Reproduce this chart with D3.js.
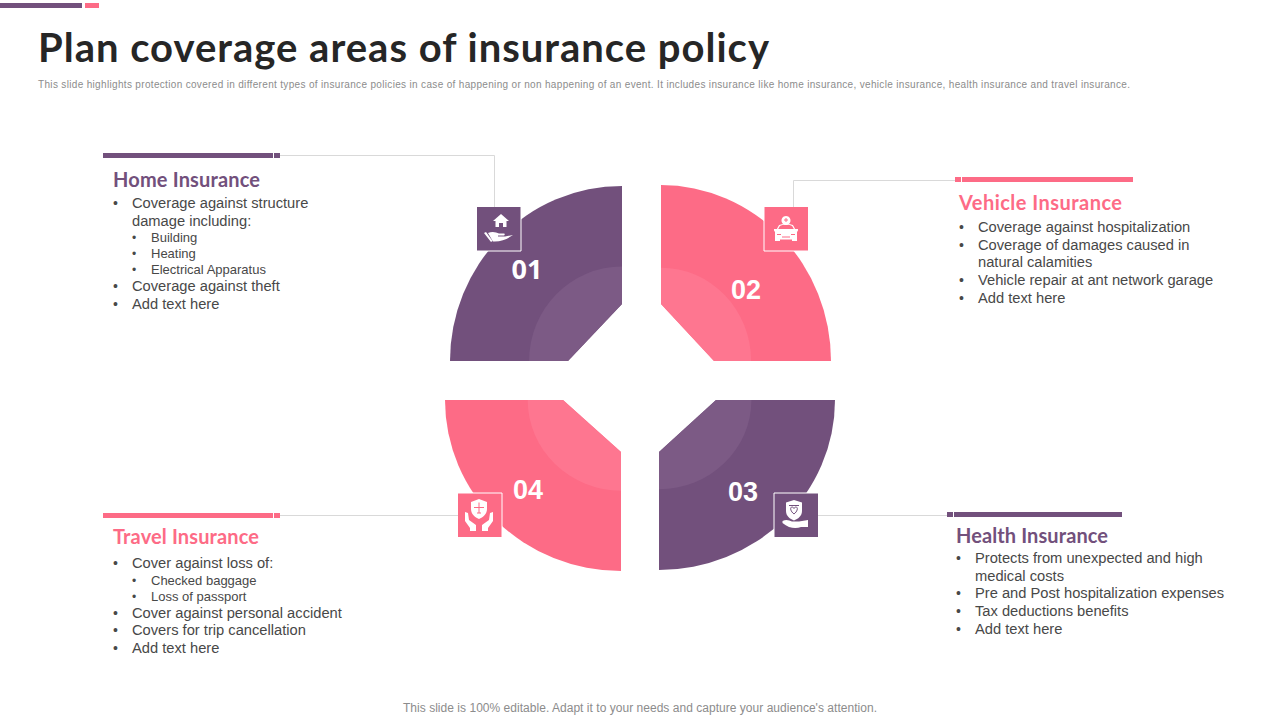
<!DOCTYPE html>
<html>
<head>
<meta charset="utf-8">
<script src="https://cdn.jsdelivr.net/npm/d3@7"></script>
<style>
  html, body { margin: 0; padding: 0; background: #fff; }
  svg { display: block; }
  text { font-family: "Liberation Sans", Arial, sans-serif; }
</style>
</head>
<body>
<div id="chart"></div>
<script>
// data
var categories = ["Home Insurance", "Vehicle Insurance", "Health Insurance", "Travel Insurance"];
var numbers = ["01", "02", "03", "04"];
var shares = [25, 25, 25, 25];
var homeLines = [
  [1, "Coverage against structure"], [0, "damage including:"], [2, "Building"], [2, "Heating"],
  [2, "Electrical Apparatus"], [1, "Coverage against theft"], [1, "Add text here"]
];
var vehicleLines = [
  [1, "Coverage against hospitalization"], [1, "Coverage of damages caused in"], [0, "natural calamities"],
  [1, "Vehicle repair at ant network garage"], [1, "Add text here"]
];
var healthLines = [
  [1, "Protects from unexpected and high"], [0, "medical costs"], [1, "Pre and Post hospitalization expenses"],
  [1, "Tax deductions benefits"], [1, "Add text here"]
];
var travelLines = [
  [1, "Cover against loss of:"], [2, "Checked baggage"], [2, "Loss of passport"],
  [1, "Cover against personal accident"], [1, "Covers for trip cancellation"], [1, "Add text here"]
];
var allLines = [homeLines, vehicleLines, healthLines, travelLines];

var purple = "#72507c", pink = "#fd6b86";
var colors = [purple, pink, purple, pink];
var lightColors = ["#7c5a85", "#fe7690", "#7c5a85", "#fe7690"];

// layout per quarter, same order as categories
var wedges = [
  {cx: 622, cy: 361, rx: 172, ry: 175, inner: 0.54, cut: [[0, -57], [-54, 0]], tx: 527, ty: 269},
  {cx: 661, cy: 361, rx: 170, ry: 176, inner: 0.53, cut: [[0, -57], [53, 0]], tx: 746, ty: 289},
  {cx: 659, cy: 400, rx: 176, ry: 170, inner: 0.525, cut: [[0, 52], [57, 0]], tx: 743, ty: 491},
  {cx: 621, cy: 400, rx: 176, ry: 171, inner: 0.53, cut: [[0, 52], [-58, 0]], tx: 528, ty: 489}
];
var boxes = [
  {x: 477, y: 207, edge: "M44,0V44H0"},
  {x: 764, y: 207, edge: "M0,0V44H44"},
  {x: 774, y: 493, edge: "M44,0H0V44"},
  {x: 458, y: 493, edge: "M0,0H44V44"}
];
var blocks = [
  {barX: 103, barY: 153, barW: 170, sqX: 274, link: "M279,155.5H494.5V207", headX: 113, headY: 187, headW: 147, bulletX: 113,
   ys: [203, 221, 237.5, 253.5, 269.5, 286, 304]},
  {barX: 962, barY: 177, barW: 171, sqX: 955, link: "M955,180.5H793.5V207", headX: 959, headY: 210, headW: 163, bulletX: 959,
   ys: [227, 245, 262, 280, 298]},
  {barX: 954, barY: 512, barW: 168, sqX: 947, link: "M947,515.5H818", headX: 956, headY: 543, headW: 152, bulletX: 956,
   ys: [558, 576, 593, 611, 629]},
  {barX: 103, barY: 513, barW: 170, sqX: 274, link: "M279,515.5H458", headX: 113, headY: 544, headW: 146, bulletX: 113,
   ys: [563, 580.5, 596.5, 613, 630, 648]}
];
// icon shapes, drawn in a 44px box
var icons = [
  "M16,14L24,7L32,14H29.5V20H26V16H22V20H18.5V14Z M7,26L14,35L15.5,34L9,25Z M11,26C15,24 19,25 22,26.5H27C28,26.5 28,28 27,28.5H21V29.5H28L36,28C30,32 24,35 16,34.5Z",
  "M22,9a4.5,4.5 0 1 0 .01,0Z M10,22H34V23.5L33,25V34H28V32.5H16V34H11V25L10,23.5Z",
  "M20,7L28,9.5V18C28,23 24,26 20,27.5C16,26 12,23 12,18V9.5Z M8.5,28C12,26 15,27 18,28.5H25L34,27V34H27C22,36 15,35.5 8.5,30Z",
  "M21,6L29,9V16C29,21 25,24.5 21,26C17,24.5 13,21 13,16V9Z M7,19L10,20L11,27L18,32V38H12V35L7,28Z M35,19L32,20L31,27L24,32V38H30V35L35,28Z"
];
var iconDetails = [null,
  "M22,11V15 M20,13H24 M13,27.5H17 M27,27.5H31 M18,30H26",
  "M20,21C16,18 16,14 18,14C19,14 20,15 20,15.5C20,15 21,14 22,14C24,14 24,18 20,21Z M15,12.5H25",
  "M21,9.5V20 M16,14.5L26,14.5 M19,20H23"
];
var iconOutlines = [null, "M13.5,22L15.5,18.5Q22,15.5 28.5,18.5L30.5,22", null, null];

var svg = d3.select("#chart").append("svg")
  .attr("width", 1280)
  .attr("height", 720);

// top accent bars
svg.append("rect").attr("x", 0).attr("y", 3).attr("width", 82).attr("height", 5).attr("fill", purple);
svg.append("rect").attr("x", 85).attr("y", 3).attr("width", 14).attr("height", 5).attr("fill", pink);

// title and notes
svg.append("text").attr("x", 38).attr("y", 62)
  .attr("textLength", 731).attr("lengthAdjust", "spacing")
  .style("font-family", "Lato").style("font-size", "40px").style("font-weight", 700)
  .attr("fill", "#262626")
  .text("Plan coverage areas of insurance policy");
svg.append("text").attr("x", 38).attr("y", 88)
  .attr("textLength", 1092).attr("lengthAdjust", "spacing")
  .style("font-size", "10px").attr("fill", "#8c8c8c")
  .text("This slide highlights protection covered in different types of insurance policies in case of happening or non happening of an event. It includes insurance like home insurance, vehicle insurance, health insurance and travel insurance.");
svg.append("text").attr("x", 403).attr("y", 712)
  .attr("textLength", 474).attr("lengthAdjust", "spacing")
  .style("font-size", "12px").attr("fill", "#8c8c8c")
  .text("This slide is 100% editable. Adapt it to your needs and capture your audience's attention.");

// wedges, starting top left and going clockwise
var pie = d3.pie().sort(null).startAngle(-Math.PI / 2).endAngle(Math.PI * 1.5);
var arcs = pie(shares);
var arc = d3.arc().innerRadius(0);

arcs.forEach(function (a, i) {
  var w = wedges[i];
  // clip away the corner next to the middle of the circle
  var sx = w.cut[1][0] > 0 ? 1 : -1, sy = w.cut[0][1] > 0 ? 1 : -1;
  var far = 200;
  var poly = [w.cut[0], [0, sy * far], [sx * far, sy * far], [sx * far, 0], w.cut[1]];
  svg.append("clipPath").attr("id", "cut" + i)
    .append("polygon").attr("points", poly.join(" "));
  var g = svg.append("g")
    .attr("transform", "translate(" + w.cx + "," + w.cy + ")")
    .attr("clip-path", "url(#cut" + i + ")");
  var scale = "scale(" + w.rx + "," + w.ry + ")";
  g.append("path").attr("d", arc.outerRadius(1)(a)).attr("transform", scale).attr("fill", colors[i]);
  g.append("path").attr("d", arc.outerRadius(w.inner)(a)).attr("transform", scale).attr("fill", lightColors[i]);
  svg.append("text").attr("x", w.tx).attr("y", w.ty + 9.5)
    .style("text-anchor", "middle").style("font-size", "27px").style("font-weight", 700)
    .style("font-family", i == 0 ? "'Open Sans'" : "'Liberation Sans'")
    .attr("fill", "#fff")
    .text(numbers[i]);
});

// connector lines and text blocks
categories.forEach(function (name, i) {
  var b = blocks[i];
  svg.append("path").attr("d", b.link).attr("fill", "none").attr("stroke", "#d9d9d9").attr("stroke-width", 1);
  svg.append("rect").attr("x", b.barX).attr("y", b.barY).attr("width", b.barW).attr("height", 5).attr("fill", colors[i]);
  svg.append("rect").attr("x", b.sqX).attr("y", b.barY).attr("width", 6).attr("height", 5).attr("fill", colors[i]);
  svg.append("text").attr("x", b.headX).attr("y", b.headY)
    .attr("textLength", b.headW).attr("lengthAdjust", "spacing")
    .style("font-family", "Lato").style("font-size", "20px").style("font-weight", 700)
    .attr("fill", colors[i])
    .text(name);

  allLines[i].forEach(function (line, j) {
    var sub = line[0] == 2;
    var y = b.ys[j] + (sub ? 4.5 : 5);
    var textX = b.bulletX + (sub ? 38 : 19);
    if (line[0] > 0) {
      svg.append("text").attr("x", b.bulletX + (sub ? 19 : 0)).attr("y", y)
        .style("font-size", sub ? "12px" : "14px").attr("fill", "#484848").text("•");
    }
    svg.append("text").attr("x", textX).attr("y", y)
      .style("font-size", sub ? "13px" : "14.7px").attr("fill", "#484848")
      .text(line[1]);
  });
});

// icon boxes
boxes.forEach(function (b, i) {
  var g = svg.append("g").attr("transform", "translate(" + b.x + "," + b.y + ")");
  g.append("rect").attr("width", 44).attr("height", 44).attr("fill", colors[i]);
  g.append("path").attr("d", b.edge).attr("fill", "none").attr("stroke", "#fff").attr("stroke-width", 1);
  g.append("path").attr("d", icons[i]).attr("fill", "#fff");
  if (iconOutlines[i]) {
    g.append("path").attr("d", iconOutlines[i]).attr("fill", "none").attr("stroke", "#fff").attr("stroke-width", 1.2);
  }
  if (iconDetails[i]) {
    g.append("path").attr("d", iconDetails[i]).attr("fill", "none").attr("stroke", colors[i]).attr("stroke-width", 1);
  }
});
</script>
</body>
</html>
